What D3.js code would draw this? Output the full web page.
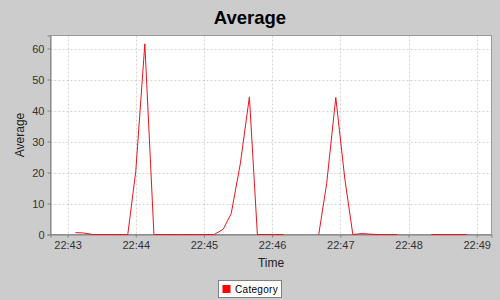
<!DOCTYPE html>
<html>
<head>
<meta charset="utf-8">
<script src="https://cdn.jsdelivr.net/npm/d3@7"></script>
<style>
  body { margin: 0; background: #cccccc; }
  svg { display: block; font-family: "Liberation Sans", Arial, sans-serif; }
</style>
</head>
<body>
<svg width="500" height="300"></svg>
<script>
// sample times (hh:mm:ss) and averages, null = no sample
var times = [
    "22:43:07", "22:43:14", "22:43:22", "22:43:30", "22:43:37", "22:43:45", "22:43:53",
    "22:44:00", "22:44:08", "22:44:16", "22:44:23", "22:44:31", "22:44:38", "22:44:46",
    "22:44:54", "22:45:01", "22:45:09", "22:45:17", "22:45:24", "22:45:32", "22:45:40",
    "22:45:47", "22:45:55", "22:46:03", "22:46:10", "22:46:18", "22:46:25", "22:46:33",
    "22:46:41", "22:46:48", "22:46:56", "22:47:04", "22:47:11", "22:47:19", "22:47:27",
    "22:47:34", "22:47:42", "22:47:50", "22:47:57", "22:48:05", "22:48:12", "22:48:20",
    "22:48:28", "22:48:35", "22:48:43", "22:48:51"
];
var averages = [
    0.6, 0.5, 0, 0, 0, 0, 0,
    20.3, 61.5, 0, 0, 0, 0, 0,
    0, 0, 0, 1.7, 6.8, 22.8, 44.4,
    0, 0, 0, 0, null, null, null,
    0, 16.5, 44.2, 17.8, 0, 0.3, 0.1,
    0, 0, 0, null, null, null, 0,
    0, 0, 0, 0
];
var yTicks = [0, 10, 20, 30, 40, 50, 60];
var xTicks = ["22:43", "22:44", "22:45", "22:46", "22:47", "22:48", "22:49"];
var xStart = "22:42:45", xEnd = "22:49:13";
var seriesName = "Category";

function draw() {
    var svg = d3.select("svg");
    var parseT = d3.timeParse("%H:%M:%S"),
        parseM = d3.timeParse("%H:%M");

    var pLeft = 50.5, pRight = 491.5, pTop = 35.5, pBottom = 234.5;

    var data = times.map(function(t, i) {
        return { t: parseT(t), v: averages[i] };
    });

    var x = d3.scaleTime()
        .domain([parseT(xStart), parseT(xEnd)])
        .range([pLeft, pRight]);

    var y = d3.scaleLinear()
        .domain([0, 64.2])
        .range([pBottom, pTop]);

    // title
    svg.append("text")
        .attr("x", 250)
        .attr("y", 24)
        .attr("text-anchor", "middle")
        .attr("font-size", "18.5px")
        .attr("font-weight", "bold")
        .attr("fill", "#000")
        .text("Average");

    // plot background
    svg.append("rect")
        .attr("x", pLeft)
        .attr("y", pTop)
        .attr("width", pRight - pLeft)
        .attr("height", pBottom - pTop)
        .attr("fill", "#fff");

    // gridlines
    var grid = svg.append("g")
        .attr("stroke", "#c8c8c8")
        .attr("stroke-width", 0.8)
        .attr("stroke-dasharray", "2,2");

    grid.selectAll(".gy")
        .data(yTicks)
        .enter().append("line")
        .attr("x1", pLeft).attr("x2", pRight)
        .attr("y1", function(d) { return Math.round(y(d)) + 0.5; })
        .attr("y2", function(d) { return Math.round(y(d)) + 0.5; });

    grid.selectAll(".gx")
        .data(xTicks)
        .enter().append("line")
        .attr("y1", pTop).attr("y2", pBottom)
        .attr("x1", function(d) { return Math.round(x(parseM(d))) + 0.5; })
        .attr("x2", function(d) { return Math.round(x(parseM(d))) + 0.5; });

    // plot outline
    svg.append("rect")
        .attr("x", pLeft)
        .attr("y", pTop)
        .attr("width", pRight - pLeft)
        .attr("height", pBottom - pTop)
        .attr("fill", "none")
        .attr("stroke", "#9a9a9a")
        .attr("stroke-width", 1);

    // axes
    var yAxis = svg.append("g")
        .attr("transform", "translate(" + pLeft + ",0)")
        .call(d3.axisLeft(y)
            .tickValues(yTicks)
            .tickSize(3)
            .tickPadding(3));

    var xAxis = svg.append("g")
        .attr("transform", "translate(0," + pBottom + ")")
        .call(d3.axisBottom(x)
            .tickValues(xTicks.map(function(d) { return parseM(d); }))
            .tickFormat(d3.timeFormat("%H:%M"))
            .tickSize(3)
            .tickPadding(4));

    [yAxis, xAxis].forEach(function(a) {
        a.select(".domain").attr("stroke", "#808080");
        a.selectAll(".tick line").attr("stroke", "#808080");
        a.selectAll(".tick text")
            .attr("font-family", "\"Liberation Sans\", Arial, sans-serif")
            .attr("font-size", "11px")
            .attr("fill", "#333");
    });

    // axis labels
    svg.append("text")
        .attr("x", (pLeft + pRight) / 2)
        .attr("y", 267)
        .attr("text-anchor", "middle")
        .attr("font-size", "12px")
        .attr("fill", "#222")
        .text("Time");

    svg.append("text")
        .attr("transform", "translate(24," + ((pTop + pBottom) / 2) + ") rotate(-90)")
        .attr("text-anchor", "middle")
        .attr("font-size", "12px")
        .attr("fill", "#222")
        .text("Average");

    // the series
    var line = d3.line()
        .defined(function(d) { return d.v != null; })
        .x(function(d) { return x(d.t); })
        .y(function(d) { return y(d.v); });

    svg.append("path")
        .datum(data)
        .attr("fill", "none")
        .attr("stroke", "#e8141e")
        .attr("stroke-width", 1)
        .attr("d", line);

    // legend
    var lg = svg.append("g").attr("transform", "translate(218.5,280.5)");
    lg.append("rect")
        .attr("width", 63)
        .attr("height", 17)
        .attr("fill", "#fff")
        .attr("stroke", "#808080");
    lg.append("rect")
        .attr("x", 4)
        .attr("y", 4.5)
        .attr("width", 8)
        .attr("height", 8)
        .attr("fill", "#ff0000");
    lg.append("text")
        .attr("x", 16.5)
        .attr("y", 12.5)
        .attr("font-size", "10px")
        .attr("letter-spacing", "0.3px")
        .attr("fill", "#000")
        .text(seriesName);
}

draw();
</script>
</body>
</html>
